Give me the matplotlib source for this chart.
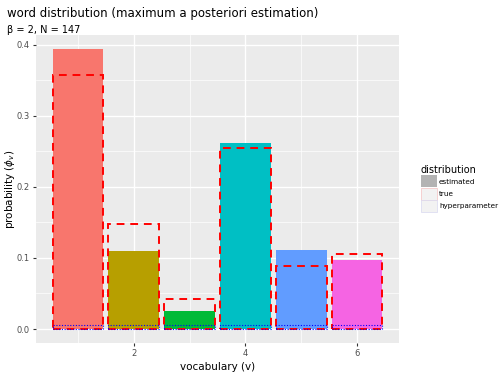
import matplotlib
matplotlib.use("Agg")
import matplotlib.pyplot as plt
from matplotlib.patches import Patch
from matplotlib.ticker import MultipleLocator

vocab = [1, 2, 3, 4, 5, 6]
estimated = [0.394, 0.110, 0.025, 0.262, 0.111, 0.097]
true_phi = [0.358, 0.148, 0.042, 0.255, 0.089, 0.106]
hyper = [0.006, 0.006, 0.006, 0.006, 0.006, 0.006]
colors = ["#F8766D", "#B79F00", "#00BA38", "#00BFC4", "#619CFF", "#F564E3"]

title = "word distribution (maximum a posteriori estimation)"
subtitle = "\u03b2 = 2, N = 147"

fig = plt.figure(figsize=(5, 3.75), dpi=100)
ax = fig.add_axes([0.072, 0.0853, 0.726, 0.8214])
ax.set_facecolor("#EBEBEB")

bw = 0.9
ax.bar(vocab, estimated, width=bw, color=colors, zorder=3)
ax.bar(vocab, true_phi, width=bw, fill=False, edgecolor="red",
       linestyle=(0, (4, 3)), linewidth=1.4, zorder=4)
ax.bar(vocab, hyper, width=bw, fill=False, edgecolor="blue",
       linestyle=(0, (1, 1.5)), linewidth=0.8, zorder=4)

ymax = max(estimated)
ax.set_xlim(0.55 - 0.05 * 5.9, 6.45 + 0.05 * 5.9)
ax.set_ylim(-0.05 * ymax, ymax * 1.05)
ax.xaxis.set_major_locator(MultipleLocator(2))
ax.xaxis.set_minor_locator(MultipleLocator(1))
ax.yaxis.set_major_locator(MultipleLocator(0.1))
ax.yaxis.set_minor_locator(MultipleLocator(0.05))
ax.grid(which="major", color="white", linewidth=1.0, zorder=0)
ax.grid(which="minor", color="white", linewidth=0.5, zorder=0)
ax.set_axisbelow(True)
for s in ax.spines.values():
    s.set_visible(False)
ax.tick_params(which="major", length=2.5, color="#333333", labelsize=6,
               labelcolor="#4D4D4D", pad=2)
ax.tick_params(which="minor", length=0)
ax.set_xticks([2, 4, 6])
ax.set_xticklabels(["2", "4", "6"])
ax.set_yticks([0.0, 0.1, 0.2, 0.3, 0.4])
ax.set_yticklabels(["0.0", "0.1", "0.2", "0.3", "0.4"])
ax.set_xlabel("vocabulary (v)", fontsize=7.5, labelpad=3)
ax.set_ylabel(r"probability ($\phi_v$)", fontsize=7.5)
ax.yaxis.set_label_coords(-0.052, 0.5)

fig.text(0.014, 0.965, title, fontsize=8.5, va="center", ha="left")
fig.text(0.014, 0.92, subtitle, fontsize=7, va="center", ha="left")

handles = [
    Patch(facecolor="#B3B3B3", edgecolor="none", label="estimated"),
    Patch(facecolor="#F2F2F2", edgecolor="#F5C0C0", linewidth=0.5, label="true"),
    Patch(facecolor="#F2F2F2", edgecolor="#D8D8F0", linewidth=0.5, label="hyperparameter"),
]
leg = fig.legend(handles=handles, title="distribution", loc="upper left",
                 bbox_to_anchor=(0.834, 0.57), frameon=False, fontsize=5.2,
                 title_fontsize=7, handlelength=2.2, handleheight=2.2,
                 labelspacing=0.05, handletextpad=0.35, borderpad=0)
leg._legend_box.align = "left"

fig.savefig("out.png", dpi=100)
